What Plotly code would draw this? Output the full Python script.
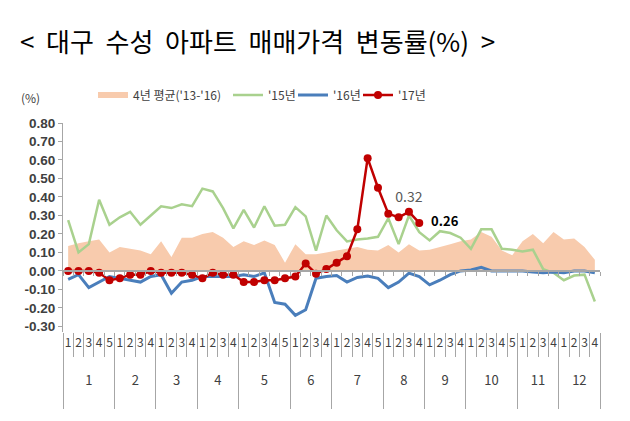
import plotly.graph_objects as go

# ---------------- data ----------------
months = ["1", "2", "3", "4", "5", "6", "7", "8", "9", "10", "11", "12"]
weeks_per_month = [5, 4, 4, 4, 5, 4, 5, 4, 4, 5, 4, 4]

avg_13_16 = [0.135, 0.15, 0.16, 0.17, 0.10, 0.13, 0.12, 0.11, 0.09, 0.16,
             0.075, 0.18, 0.18, 0.20, 0.21, 0.18, 0.13, 0.16, 0.14, 0.165,
             0.14, 0.045, 0.145, 0.09, 0.09, 0.10, 0.11, 0.12, 0.13, 0.115,
             0.11, 0.14, 0.10, 0.145, 0.11, 0.115, 0.13, 0.145, 0.16, 0.17,
             0.21, 0.185, 0.11, 0.085, 0.16, 0.20, 0.15, 0.21, 0.17, 0.175,
             0.13, 0.06]

y2015 = [0.275, 0.10, 0.145, 0.385, 0.25, 0.29, 0.32, 0.25, 0.30, 0.35,
         0.34, 0.36, 0.35, 0.445, 0.43, 0.34, 0.23, 0.33, 0.235, 0.35,
         0.245, 0.25, 0.345, 0.295, 0.11, 0.30, 0.22, 0.16, 0.17, 0.175,
         0.185, 0.285, 0.145, 0.30, 0.21, 0.165, 0.215, 0.205, 0.18, 0.12,
         0.225, 0.225, 0.12, 0.115, 0.105, 0.115, 0.01, -0.01, -0.05, -0.025,
         -0.02, -0.165]

y2016 = [-0.045, -0.02, -0.09, -0.06, -0.03, -0.04, -0.05, -0.06, -0.03, -0.02,
         -0.12, -0.06, -0.05, -0.03, -0.03, -0.03, -0.03, -0.02, -0.03, -0.01,
         -0.17, -0.18, -0.24, -0.21, -0.04, -0.03, -0.025, -0.06, -0.035, -0.027,
         -0.04, -0.09, -0.06, -0.012, -0.03, -0.075, -0.05, -0.02, 0.00, 0.005,
         0.02, 0.00, 0.00, 0.00, 0.00, -0.005, -0.01, -0.005, -0.01, 0.00,
         0.00, -0.01]

y2017 = [0.00, 0.00, 0.00, -0.01, -0.05, -0.04, -0.02, -0.02, 0.00, -0.01,
         -0.01, -0.01, -0.02, -0.04, -0.01, -0.02, -0.02, -0.06, -0.06, -0.05,
         -0.05, -0.04, -0.03, 0.04, -0.015, 0.01, 0.045, 0.08, 0.225, 0.61,
         0.45, 0.31, 0.29, 0.32, 0.26]

labelled_2017 = {33: "0.32", 34: "0.26"}

y_ticks = [0.80, 0.70, 0.60, 0.50, 0.40, 0.30, 0.20, 0.10, 0.00, -0.10, -0.20, -0.30]

# ---------------- categories -> positions ----------------
week_labels = []
month_centers, month_bounds = [], []
start = 0
for m, n in zip(months, weeks_per_month):
    week_labels += [str(w) for w in range(1, n + 1)]
    month_centers.append(start + (n - 1) / 2)
    month_bounds.append(start - 0.5)
    start += n
month_bounds.append(start - 0.5)
n_cat = len(week_labels)
pos = list(range(n_cat))
week_bounds = [i - 0.5 for i in range(n_cat + 1)]

FONT = "Noto Sans CJK KR"
GRAY = "#A6A6A6"
W, H = 630, 421

fig = go.Figure()

fig.add_trace(go.Scatter(
    x=pos, y=avg_13_16, name="4년 평균('13-'16)", mode="none",
    fill="tozeroy", fillcolor="#F8CBAD", hoverinfo="skip", legend="legend"))

fig.add_trace(go.Scatter(
    x=pos, y=y2015, name="'15년", mode="lines",
    line=dict(color="#A9D18E", width=2.5), legend="legend2"))

fig.add_trace(go.Scatter(
    x=pos, y=y2016, name="'16년", mode="lines",
    line=dict(color="#4A7EBB", width=3), legend="legend3"))

texts, tpos, tcol, tsize = [], [], [], []
for i, v in enumerate(y2017):
    if i in labelled_2017:
        last = i == len(y2017) - 1
        texts.append(("\u00a0\u00a0<b>%s</b>" if last else "%s") % labelled_2017[i])
        tpos.append("middle right" if last else "top center")
        tcol.append("#000000" if last else "#595959")
        tsize.append(13 if last else 14)
    else:
        texts.append("")
        tpos.append("top center")
        tcol.append("#000000")
        tsize.append(12)

fig.add_trace(go.Scatter(
    x=pos[:len(y2017)], y=y2017, name="'17년", mode="lines+markers+text",
    line=dict(color="#C00000", width=2.5),
    marker=dict(color="#C00000", size=8, symbol="circle"),
    text=texts, textposition=tpos,
    textfont=dict(color=tcol, size=tsize, family=FONT), legend="legend4"))

# empty helper traces so the decorative axes (zero line ticks, month row) are drawn
for ax in ("x2", "x3"):
    fig.add_trace(go.Scatter(x=[], y=[], xaxis=ax, yaxis="y", mode="lines",
                             showlegend=False, hoverinfo="skip"))

y_min, y_max = -0.33, 0.80
zero_pos = (0 - y_min) / (y_max - y_min)
x_range = [-0.5, n_cat - 0.5]


def leg(xpx):
    return dict(orientation="h", xref="container", yref="container",
                x=xpx / W, y=1 - 95 / H, xanchor="left", yanchor="middle",
                font=dict(size=12, color="#404040", family=FONT),
                bgcolor="rgba(0,0,0,0)", borderwidth=0, itemwidth=30)


fig.update_layout(
    width=W, height=H,
    margin=dict(l=63, r=30, t=123, b=89, autoexpand=False),
    paper_bgcolor="white", plot_bgcolor="white",
    font=dict(family=FONT, color="#404040"),
    showlegend=True,
    legend=leg(93), legend2=leg(228), legend3=leg(293), legend4=leg(358),
    xaxis=dict(range=x_range, automargin=False,
               showgrid=False, showline=False, zeroline=False,
               tickmode="array", tickvals=pos, ticktext=week_labels,
               ticks="", tickangle=0, ticklabelstandoff=2,
               tickfont=dict(size=12, color="#404040", family=FONT),
               minor=dict(tickmode="array", tickvals=week_bounds,
                          ticks="outside", ticklen=24, tickcolor=GRAY,
                          tickwidth=1, showgrid=False)),
    xaxis2=dict(overlaying="x", anchor="free", position=zero_pos,
                range=x_range, showgrid=False, zeroline=False,
                automargin=False,
                showline=True, linecolor=GRAY, linewidth=1.5,
                tickmode="array", tickvals=week_bounds,
                ticks="outside", ticklen=4, tickcolor=GRAY,
                showticklabels=False),
    xaxis3=dict(overlaying="x", anchor="free", position=0,
                range=x_range, showgrid=False, zeroline=False,
                automargin=False, showline=False,
                tickmode="array", tickvals=month_centers, ticktext=months,
                ticks="", tickangle=0, ticklabelstandoff=39,
                tickfont=dict(size=13, color="#404040", family=FONT),
                minor=dict(tickmode="array", tickvals=month_bounds,
                           ticks="outside", ticklen=76, tickcolor=GRAY,
                           tickwidth=1, showgrid=False)),
    yaxis=dict(range=[y_min, y_max], tickmode="array", tickvals=y_ticks,
               ticktext=["%.2f" % v for v in y_ticks], automargin=False,
               showgrid=False, zeroline=False,
               showline=True, linecolor=GRAY, linewidth=1,
               ticks="outside", ticklen=4, tickcolor=GRAY,
               tickfont=dict(size=13.5, color="#404040",
                             family="Liberation Sans", weight="bold")),
    annotations=[
        dict(text="&lt;  대구  수성  아파트  매매가격  변동률(%)  &gt;",
             xref="paper", yref="paper", showarrow=False,
             x=(257 - 63) / 537, y=1 + (123 - 40) / 209,
             xanchor="center", yanchor="middle",
             font=dict(size=26, color="#000000", family=FONT)),
        dict(text="(%)", xref="paper", yref="paper", showarrow=False,
             x=(30 - 63) / 537, y=1 + (123 - 97) / 209,
             xanchor="center", yanchor="middle",
             font=dict(size=12, color="#404040", family=FONT)),
    ],
)

fig.write_html("out.html", config={"displayModeBar": False},
               post_script="document.body.style.margin='0';")
